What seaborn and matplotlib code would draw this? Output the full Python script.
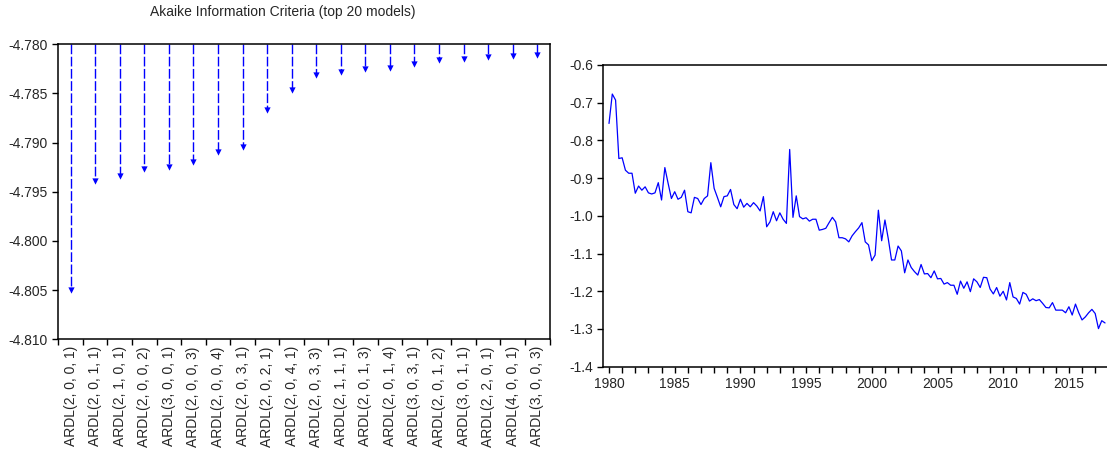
import numpy as np
import pandas as pd
import matplotlib
matplotlib.use("Agg")
import matplotlib.pyplot as plt
from matplotlib.ticker import FormatStrFormatter, FixedLocator, MultipleLocator
import seaborn as sns

# ---------------- data ----------------
models = ["ARDL(2, 0, 0, 1)", "ARDL(2, 0, 1, 1)", "ARDL(2, 1, 0, 1)", "ARDL(2, 0, 0, 2)",
          "ARDL(3, 0, 0, 1)", "ARDL(2, 0, 0, 3)", "ARDL(2, 0, 0, 4)", "ARDL(2, 0, 3, 1)",
          "ARDL(2, 0, 2, 1)", "ARDL(2, 0, 4, 1)", "ARDL(2, 0, 3, 3)", "ARDL(2, 1, 1, 1)",
          "ARDL(2, 0, 1, 3)", "ARDL(2, 0, 1, 4)", "ARDL(3, 0, 3, 1)", "ARDL(2, 0, 1, 2)",
          "ARDL(3, 0, 1, 1)", "ARDL(2, 2, 0, 1)", "ARDL(4, 0, 0, 1)", "ARDL(3, 0, 0, 3)"]
aic = [-4.8050, -4.7939, -4.7934, -4.7927, -4.7925, -4.7920, -4.7910, -4.7904,
       -4.7867, -4.7846, -4.7831, -4.7828, -4.7825, -4.7824, -4.7820, -4.7816,
       -4.7815, -4.7813, -4.7812, -4.7811]
aic_top = -4.780
aic_ticks = [-4.810, -4.805, -4.800, -4.795, -4.790, -4.785, -4.780]

# quarterly series from 1980Q1 (visible part of the panel)
series = [
    -0.755, -0.677, -0.693, -0.848, -0.846, -0.879, -0.887, -0.887, -0.940, -0.921,
    -0.932, -0.923, -0.939, -0.942, -0.939, -0.912, -0.958, -0.872, -0.914,
    -0.954, -0.936, -0.956, -0.951, -0.932, -0.989, -0.992, -0.951, -0.954, -0.970,
    -0.954, -0.947, -0.859, -0.927, -0.951, -0.976, -0.949, -0.947, -0.930,
    -0.970, -0.981, -0.956, -0.977, -0.967, -0.976, -0.965, -0.974, -0.987, -0.949,
    -1.029, -1.016, -0.989, -1.013, -0.992, -1.009, -1.020, -0.824, -1.004,
    -0.947, -1.002, -1.008, -1.005, -1.014, -1.009, -1.009, -1.038, -1.036, -1.033,
    -1.018, -1.004, -1.016, -1.058, -1.058, -1.061, -1.069, -1.053, -1.042,
    -1.032, -1.018, -1.069, -1.077, -1.119, -1.104, -0.985, -1.066, -1.011, -1.060,
    -1.117, -1.117, -1.080, -1.093, -1.151, -1.117, -1.137, -1.148, -1.157,
    -1.129, -1.154, -1.153, -1.164, -1.146, -1.167, -1.166, -1.181, -1.177, -1.184,
    -1.184, -1.208, -1.173, -1.192, -1.175, -1.201, -1.167, -1.175, -1.190,
    -1.163, -1.164, -1.194, -1.207, -1.190, -1.213, -1.200, -1.223, -1.177, -1.215,
    -1.219, -1.234, -1.203, -1.208, -1.226, -1.220, -1.225, -1.222, -1.232,
    -1.243, -1.244, -1.230, -1.250, -1.250, -1.250, -1.257, -1.241, -1.263, -1.234,
    -1.257, -1.276, -1.268, -1.257, -1.248, -1.259, -1.299, -1.278, -1.284,
]
start_quarter = "1980Q1"
year_labels = [1980, 1985, 1990, 1995, 2000, 2005, 2010, 2015]
yr_ticks = [-1.4, -1.3, -1.2, -1.1, -1.0, -0.9, -0.8, -0.7, -0.6]

# ---------------- style ----------------
sns.set_theme(style="ticks")
plt.rcParams["font.family"] = ["Liberation Sans", "DejaVu Sans"]
plt.rcParams["font.size"] = 10
BLUE = "#0000FF"

W, H = 1107, 454
fig = plt.figure(figsize=(W / 100, H / 100), dpi=100)
fig.patch.set_facecolor("white")

def frac(left, top, right, bottom):
    return [left / W, 1 - bottom / H, (right - left) / W, (bottom - top) / H]

# ---------------- left panel ----------------
ax1 = fig.add_axes(frac(58.3, 44.3, 549.5, 339.3))
df1 = pd.DataFrame({"model": models, "aic": aic})
pos = np.arange(len(models))
ax1.vlines(pos, aic_top, df1["aic"], colors=BLUE, linewidth=1.0,
           linestyles=(0, (7, 1.8)))
sns.stripplot(data=df1, x="model", y="aic", jitter=False, marker="v",
              color=BLUE, size=4.5, linewidth=0, ax=ax1, order=models)
ax1.set_xlim(-0.5, len(models) - 0.5)
ax1.set_ylim(aic_ticks[0], aic_ticks[-1])
ax1.set_yticks(aic_ticks)
ax1.yaxis.set_major_formatter(FormatStrFormatter("%.3f"))
ax1.set_xticks(pos)
ax1.set_xticklabels(models, rotation=90)
ax1.xaxis.set_minor_locator(FixedLocator(np.arange(-0.5, len(models) + 0.5, 1)))
ax1.tick_params(axis="x", which="major", length=0, pad=5, labelsize=10)
ax1.tick_params(axis="x", which="minor", length=4, width=1, direction="out", color="black")
ax1.tick_params(axis="y", length=4, width=1, direction="out", labelsize=10, color="black")
ax1.set_xlabel("")
ax1.set_ylabel("")
for s in ax1.spines.values():
    s.set_visible(True)
    s.set_linewidth(1.1)
    s.set_color("black")
fig.text(283 / W, 1 - 12 / H, "Akaike Information Criteria (top 20 models)",
         ha="center", va="center", fontsize=10)

# ---------------- right panel ----------------
# panel frame continues past the right edge of the picture (cropped)
ax2 = fig.add_axes(frac(603.3, 65, 1135, 366.7))
t = pd.period_range(start_quarter, periods=len(series), freq="Q")
tyears = t.year + (t.quarter - 1) / 4.0
df2 = pd.DataFrame({"t": tyears, "v": series})
sns.lineplot(data=df2, x="t", y="v", color=BLUE, linewidth=0.9, ax=ax2)
ax2.set_xlim(1979.566, 2020.03)
ax2.set_ylim(yr_ticks[0], yr_ticks[-1])
ax2.set_yticks(yr_ticks)
ax2.yaxis.set_major_formatter(FormatStrFormatter("%.1f"))
ax2.set_xticks(year_labels)
ax2.set_xticklabels([str(y) for y in year_labels])
ax2.xaxis.set_minor_locator(MultipleLocator(1))
ax2.tick_params(axis="x", which="both", length=4, width=1, direction="out",
                labelsize=10, color="black")
ax2.tick_params(axis="y", length=4, width=1, direction="out", labelsize=10, color="black")
ax2.set_xlabel("")
ax2.set_ylabel("")
for s in ax2.spines.values():
    s.set_visible(True)
    s.set_linewidth(1.1)
    s.set_color("black")

fig.savefig("out.png", dpi=100, facecolor="white")
